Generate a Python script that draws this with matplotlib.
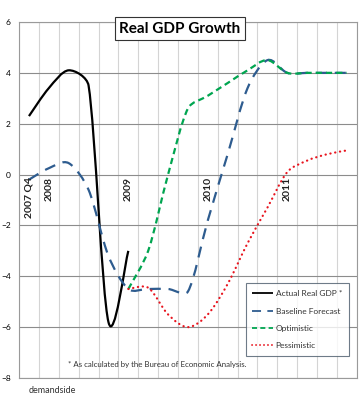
import numpy as np
import matplotlib
matplotlib.use("Agg")
import matplotlib.pyplot as plt
from matplotlib.path import Path
from matplotlib.patches import PathPatch
from matplotlib.lines import Line2D

plt.rcParams['font.family'] = ['Lato', 'DejaVu Sans']

# quarters 2007Q4 .. 2011Q4
quarters = list(range(17))
tick_pos = [0, 1, 5, 9, 13]
tick_labels = ["2007 Q4", "2008", "2009", "2010", "2011"]

nan = np.nan
actual = [2.3, 3.4, 4.1, 3.5, -5.8, -3.0] + [nan] * 11
baseline = [-0.2, 0.25, 0.45, -0.6, -3.2, -4.5, -4.5, -4.5, -4.6, -1.8, 0.8, 3.4, 4.5, 4.0, 4.0, 4.0, 4.0]
optimistic = [nan] * 5 + [-4.5, -3.0, 0.0, 2.6, 3.1, 3.6, 4.1, 4.5, 4.0, 4.0, 4.0, 4.0]
pessimistic = [nan] * 5 + [-4.5, -4.45, -5.5, -6.0, -5.5, -4.3, -2.7, -1.3, 0.1, 0.55, 0.8, 0.95]


#Excel style smoothed line: bezier, tangents clamped by segment length (screen space)
def smooth_path(x, y, sx, sy):
    x = np.asarray(x, float)
    y = np.asarray(y, float)
    ok = ~np.isnan(y)
    pts = np.column_stack((x[ok] * sx, y[ok] * sy))
    n = len(pts)

    def tangent(i):
        a = pts[max(i - 1, 0)]
        b = pts[min(i + 1, n - 1)]
        return (b - a) / 6.0

    def clamp(v, length):
        m = np.hypot(*v)
        if m > length and m > 0:
            return v * length / m
        return v

    verts = [pts[0]]
    codes = [Path.MOVETO]
    for i in range(n - 1):
        p1 = pts[i]
        p2 = pts[i + 1]
        seg = np.hypot(*(p2 - p1)) / 3.0
        c1 = p1 + clamp(tangent(i), seg)
        c2 = p2 - clamp(tangent(i + 1), seg)
        verts += [c1, c2, p2]
        codes += [Path.CURVE4] * 3
    verts = np.array(verts) / [sx, sy]
    return Path(verts, codes)


fig = plt.figure(figsize=(3.59, 4.0), dpi=100)
pos = [0.053, 0.055, 0.941, 0.89]
ax = fig.add_axes(pos)

ax.set_xlim(-0.5, 16.5)
ax.set_ylim(-8, 6)
sx = pos[2] * 359 / 17.0
sy = pos[3] * 400 / 14.0

# grid
for v in np.arange(-0.5, 16.6, 1):
    ax.axvline(v, color='#d4d4d4', lw=0.8, zorder=0)
for h in range(-8, 7, 2):
    ax.axhline(h, color='#8c8c8c', lw=0.8, zorder=0)

styles = [
    (actual, 'black', 'solid', 'butt', "Actual Real GDP"),
    (baseline, '#2e5c8f', (0, (5, 3.5)), 'butt', "Baseline Forecast"),
    (optimistic, '#00a550', (0, (2.8, 1.8)), 'butt', "Optimistic"),
    (pessimistic, '#e8141e', (0, (0.1, 2.1)), 'round', "Pessimistic"),
]
handles = []
for data, col, ls, cap, lab in styles:
    patch = PathPatch(smooth_path(quarters, data, sx, sy), fill=False, edgecolor=col,
                      lw=1.6, linestyle=ls, capstyle=cap, zorder=3)
    ax.add_patch(patch)
    h = Line2D([], [], color=col, lw=1.3, linestyle=ls, solid_capstyle=cap,
               dash_capstyle=cap, label=lab)
    handles.append(h)

# category labels next to the zero line
for p, t in zip(tick_pos, tick_labels):
    ax.text(p, -0.1, t, rotation=90, ha='center', va='top', fontsize=7.5,
            fontweight='bold', color='#222222')

ax.set_xticks([])
ax.set_yticks(range(-8, 7, 2))
ax.tick_params(axis='y', length=0, labelsize=6, pad=6)
for s in ax.spines.values():
    s.set_color('#9a9a9a')
    s.set_linewidth(0.8)

ax.text(7.6, 5.74, "Real GDP Growth", fontsize=11, fontweight='bold',
        va='center', ha='center', clip_on=False,
        bbox=dict(boxstyle='square,pad=0.28', fc='white', ec='#333333', lw=0.8))

leg = ax.legend(handles=handles, loc='lower right', bbox_to_anchor=(0.988, 0.05),
                fontsize=6, frameon=True, fancybox=False, handlelength=2.5,
                handletextpad=0.3, labelspacing=1.25, borderpad=0.8)
leg.get_frame().set_edgecolor('#4a5a6a')
leg.get_frame().set_linewidth(0.8)
for t in leg.get_texts():
    t.set_color('#333333')
leg.get_texts()[0].set_text("Actual Real GDP *")

ax.text(1.96, -7.48, "* As calculated by the Bureau of Economic Analysis.", fontsize=5.7,
        color='#333333', va='center')
fig.text(0.08, 0.023, "demandside", fontsize=6.5, color='#333333', va='center')

fig.savefig("out.png", dpi=100)
